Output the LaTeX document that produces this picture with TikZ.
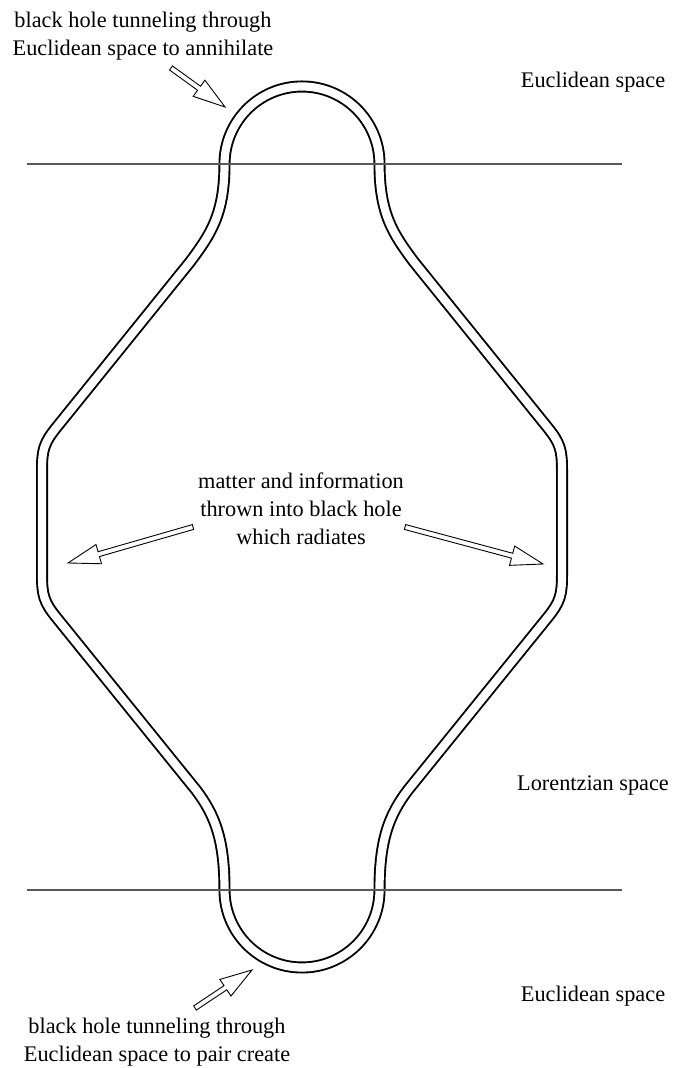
\documentclass[tikz,border=0pt]{standalone}
\usepackage{fontspec}
\setmainfont{Liberation Serif}
\usetikzlibrary{calc, positioning}

% hollow block arrow from tail #1 to tip #2
\newcommand{\hollowarrow}[2]{%
    \coordinate (hb) at ($(#2)!32pt!(#1)$);
    \draw[hollow] ($(#1)!2.5pt!90:(#2)$) -- ($(hb)!2.5pt!-90:(#1)$) -- ($(hb)!10pt!-90:(#1)$)
        -- (#2) -- ($(hb)!10pt!90:(#1)$) -- ($(hb)!2.5pt!90:(#1)$) -- ($(#1)!2.5pt!-90:(#2)$) -- cycle;
}

\begin{document}
\begin{tikzpicture}[x=1pt, y=1pt,
    sheet/.style={double, double distance=8.2pt, line width=1.9pt},
    cut/.style={black!65, line width=1.3pt},
    hollow/.style={line width=0.9pt, fill=white, line join=miter},
    lbl/.style={font=\fontsize{22.3}{28}\selectfont, inner sep=0pt, align=center}]
    \useasboundingbox (0,0) rectangle (672,1068);

    % Black hole world tube
    \draw[sheet] (379.5,904) arc (0:180:77.5)
        .. controls (224.5,853) and (210,833) .. (190,806)
        -- (56,640) .. controls (44,625) and (42,618) .. (42,598)
        -- (42,493) .. controls (42,473) and (44,466) .. (56,451)
        -- (196,278) .. controls (215,253) and (224.5,228) .. (224.5,178)
        arc (180:360:77.5)
        .. controls (379.5,228) and (389,253) .. (408,278)
        -- (548,451) .. controls (560,466) and (562,473) .. (562,493)
        -- (562,598) .. controls (562,618) and (560,625) .. (548,640)
        -- (414,806) .. controls (394,833) and (379.5,853) .. (379.5,904)
        -- cycle;

    % Cuts between Euclidean and Lorentzian space
    \coordinate (topL) at (27,904);
    \coordinate (topR) at (622,904);
    \coordinate (botL) at (27,178);
    \coordinate (botR) at (622,178);
    \draw[cut] (topL) -- (topR);
    \draw[cut] (botL) -- (botR);

    % Labels
    \node[lbl] (annihilate) at (143,1032.2) {black hole tunneling through\\Euclidean space to annihilate};
    \node[lbl, anchor=base] (euclidtop) at (593,980) {Euclidean space};
    \node[lbl] (matter) at (301,559.6) {matter and information\\thrown into black hole\\which radiates};
    \node[lbl, anchor=base] (lorentz) at (593,277) {Lorentzian space};
    \node[lbl, anchor=base] (euclidbot) at (593,66) {Euclidean space};
    \node[lbl] (paircreate) at (157,26.2) {black hole tunneling through\\Euclidean space to pair create};

    % Arrows
    \coordinate (annT) at (171,1000);
    \coordinate (annH) at (225,961);
    \coordinate (radLT) at (193,541);
    \coordinate (radLH) at (68,505);
    \coordinate (radRT) at (405,541);
    \coordinate (radRH) at (543,504);
    \coordinate (pairT) at (195,60);
    \coordinate (pairH) at (252,98);
    \hollowarrow{annT}{annH}
    \hollowarrow{radLT}{radLH}
    \hollowarrow{radRT}{radRH}
    \hollowarrow{pairT}{pairH}
\end{tikzpicture}
\end{document}
